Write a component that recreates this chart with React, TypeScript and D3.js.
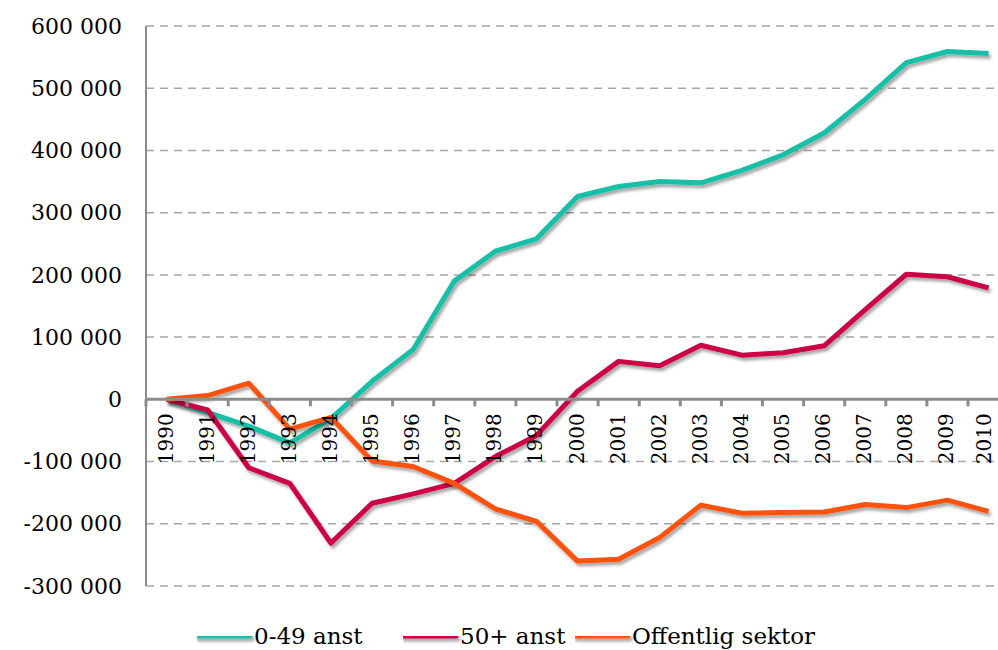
import React, { useEffect, useRef } from 'react';
import * as d3 from 'd3';

const years = ['1990', '1991', '1992', '1993', '1994', '1995', '1996', '1997', '1998', '1999', '2000',
  '2001', '2002', '2003', '2004', '2005', '2006', '2007', '2008', '2009', '2010'];

const small = [0, -21000, -43000, -70000, -31000, 29000, 80000, 190000, 238000, 258000, 326000,
  342000, 350000, 348000, 368000, 393000, 428000, 482000, 541000, 559000, 556000];

const large = [0, -17000, -110000, -135000, -231000, -167000, -152000, -135000, -92000, -58000, 13000,
  61000, 54000, 87000, 71000, 75000, 86000, 144000, 201000, 197000, 179000];

const publicSector = [0, 6000, 26000, -48000, -29000, -99000, -108000, -135000, -176000, -196000, -260000,
  -257000, -222000, -170000, -183000, -182000, -181000, -169000, -174000, -162000, -180000];

const yTicks = [-300000, -200000, -100000, 0, 100000, 200000, 300000, 400000, 500000, 600000];

const seriesNames = ['0-49 anst', '50+ anst', 'Offentlig sektor'];
const seriesColors = ['#12BFA6', '#CC0044', '#FF5210'];

const FONT = "Georgia, 'DejaVu Serif', serif";

export default function App() {
  const svgRef = useRef<SVGSVGElement>(null);

  useEffect(() => {
    document.body.style.margin = '0';
    if (!svgRef.current) return;
    const svg = d3.select(svgRef.current);
    svg.selectAll('*').remove();

    const left = 146;
    const step = 41.1;
    const x = d3.scaleBand().domain(years).range([left, left + step * years.length]);
    const y = d3.scaleLinear().domain([-300000, 600000]).range([586, 26]);
    const cx = (d: string) => (x(d) || 0) + x.bandwidth() / 2;

    const locale = d3.formatLocale({ decimal: ',', thousands: ' ', grouping: [3], currency: ['', ''], minus: '-' });
    const fmt = locale.format(',d');

    // drop shadow in user space so flat legend lines also get it
    const defs = svg.append('defs');
    const f = defs.append('filter').attr('id', 'shadow')
      .attr('filterUnits', 'userSpaceOnUse')
      .attr('x', 0).attr('y', 0).attr('width', 998).attr('height', 650);
    f.append('feDropShadow')
      .attr('dx', 2).attr('dy', 3).attr('stdDeviation', 1.8)
      .attr('flood-color', '#000').attr('flood-opacity', 0.35);

    // grid lines
    svg.selectAll('.grid')
      .data(yTicks.filter(t => t !== 0))
      .enter()
      .append('line')
      .attr('x1', left)
      .attr('x2', 998)
      .attr('y1', d => y(d))
      .attr('y2', d => y(d))
      .attr('stroke', '#A6A6A6')
      .attr('stroke-width', 1.5)
      .attr('stroke-dasharray', '8,6');

    // y axis line
    svg.append('line')
      .attr('x1', left).attr('x2', left)
      .attr('y1', y(600000)).attr('y2', y(-300000))
      .attr('stroke', '#8C8C8C').attr('stroke-width', 2);

    // y labels
    svg.selectAll('.ylab')
      .data(yTicks)
      .enter()
      .append('text')
      .attr('x', 122)
      .attr('y', d => y(d))
      .attr('dy', '0.35em')
      .attr('text-anchor', 'end')
      .attr('font-family', FONT)
      .attr('font-size', 22)
      .attr('fill', '#000')
      .text(d => fmt(d));

    // lines
    const line = d3.line<number>()
      .x((_, i) => cx(years[i]))
      .y(d => y(d));

    [small, large, publicSector].forEach((vals, i) => {
      svg.append('path')
        .datum(vals)
        .attr('d', line)
        .attr('fill', 'none')
        .attr('stroke', seriesColors[i])
        .attr('stroke-width', 5)
        .attr('stroke-linejoin', 'round')
        .attr('filter', 'url(#shadow)');
    });

    // zero axis
    svg.append('line')
      .attr('x1', left).attr('x2', 998)
      .attr('y1', y(0)).attr('y2', y(0))
      .attr('stroke', '#8C8C8C').attr('stroke-width', 3);

    const tickPos = d3.range(years.length + 1).map(i => left + i * step);
    svg.selectAll('.xtick')
      .data(tickPos)
      .enter()
      .append('line')
      .attr('x1', d => d).attr('x2', d => d)
      .attr('y1', y(0)).attr('y2', y(0) + 7)
      .attr('stroke', '#8C8C8C').attr('stroke-width', 3);

    // x labels (last one nudged in so it stays inside the picture)
    svg.selectAll('.xlab')
      .data(years)
      .enter()
      .append('text')
      .attr('transform', d => `translate(${Math.min(cx(d) - 1, 984)},${y(0) + 14}) rotate(-90)`)
      .attr('text-anchor', 'end')
      .attr('dy', '0.35em')
      .attr('font-family', FONT)
      .attr('font-size', 20)
      .attr('fill', '#000')
      .text(d => d);

    // legend
    const legendX = [197, 403, 575];
    seriesNames.forEach((name, i) => {
      const g = svg.append('g').attr('transform', `translate(${legendX[i]},636)`);
      g.append('line')
        .attr('x1', 0).attr('x2', 53)
        .attr('y1', 0).attr('y2', 0)
        .attr('stroke', seriesColors[i])
        .attr('stroke-width', 5)
        .attr('stroke-linecap', 'round')
        .attr('filter', 'url(#shadow)');
      g.append('text')
        .attr('x', 57)
        .attr('y', 8)
        .attr('font-family', FONT)
        .attr('font-size', 23)
        .attr('fill', '#000')
        .text(name);
    });
  }, []);

  return <svg ref={svgRef} width={998} height={650} style={{ display: 'block', background: '#fff' }} />;
}
